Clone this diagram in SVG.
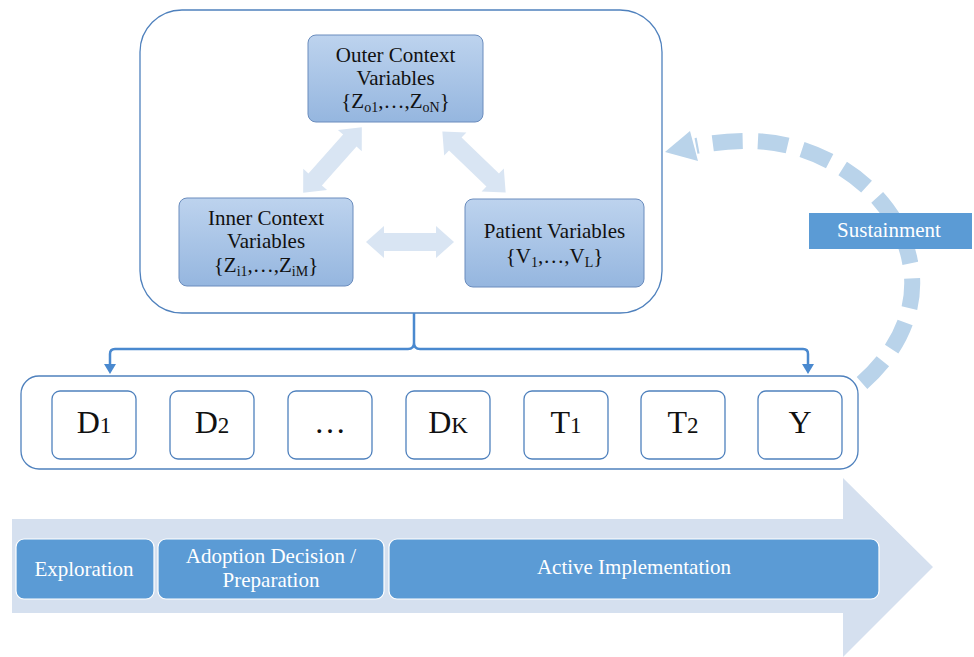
<svg xmlns="http://www.w3.org/2000/svg" xmlns:xlink="http://www.w3.org/1999/xlink" width="974" height="657" viewBox="0 0 974 657">
<style>
text{font-family:"Liberation Serif","DejaVu Serif","Noto Serif","Times New Roman",serif;}
.ntext{font-size:21px;fill:#111;text-anchor:middle;}
.sub{font-size:14px;}
.big{font-size:32px;fill:#111;text-anchor:middle;}
.small{font-size:23px;}
.wtext{font-size:21px;fill:#fff;text-anchor:middle;}
.frame{fill:#fff;stroke:#4f81bd;stroke-width:1.3;}
.node{fill:url(#ng);stroke:#6a8cbd;stroke-width:1;}
.seq{fill:#fff;stroke:#4f81bd;stroke-width:1.3;}
.phase{fill:#5b9bd5;stroke:#fff;stroke-width:1.2;}
.dbl{fill:#d9e5f3;}
.sm{fill:#a8b8e0;}
</style>
<defs>
<linearGradient id="ng" x1="0" y1="0" x2="0" y2="1">
<stop offset="0" stop-color="#bdd3ee"/>
<stop offset="1" stop-color="#95b6df"/>
</linearGradient>
<path id="dbl" d="M -44 0 L -26 -16 L -26 -9 L 26 -9 L 26 -16 L 44 0 L 26 16 L 26 9 L -26 9 L -26 16 Z"/>
<path id="sma" d="M 0 -4 L 8 -4 L 8 -8 L 16 0 L 8 8 L 8 4 L 0 4 Z"/>
</defs>

<g id="timeline">
<path fill="#d5e0ef" d="M 12 519 L 843 519 L 843 478 L 933 567 L 843 657 L 843 613 L 12 613 Z"/>
</g>

<g id="sustainment-arc">
<path d="M 862 383 C 905 345 918 300 910 262 C 898 192 822 141 750 141 C 728 141 712 143 696 146" fill="none" stroke="#b9d3ea" stroke-width="16" stroke-dasharray="30 15"/>
<polygon points="665,152 690,131 698,161" fill="#b9d3ea"/>
</g>

<g id="context-frame">
<rect class="frame" x="140" y="10" width="522" height="303" rx="42"/>
</g>

<g id="connectors">
<use href="#dbl" class="dbl" transform="translate(410 242)"/>
<use href="#dbl" class="dbl" transform="translate(332.5 160) rotate(-48.2)"/>
<use href="#dbl" class="dbl" transform="translate(474 162) rotate(44)"/>
<path d="M 110 366 L 110 354 Q 110 349 115 349 L 408 349 Q 414 349 414 343 L 414 313 M 414 343 Q 414 349 420 349 L 803 349 Q 808 349 808 354 L 808 366" fill="none" stroke="#4a89cf" stroke-width="2.5"/>
<polygon points="104,364 116,364 110,374" fill="#4a89cf"/>
<polygon points="802,364 814,364 808,374" fill="#4a89cf"/>
<use href="#sma" class="sm" transform="translate(146 425)"/>
<use href="#sma" class="sm" transform="translate(264 425)"/>
<use href="#sma" class="sm" transform="translate(382 425)"/>
<use href="#sma" class="sm" transform="translate(500 425)"/>
<use href="#sma" class="sm" transform="translate(618 425)"/>
<use href="#sma" class="sm" transform="translate(735 425)"/>
</g>

<g id="outer-context">
<rect class="node" x="308" y="35" width="175" height="87" rx="8"/>
<text class="ntext" x="395.5" y="62">Outer Context</text>
<text class="ntext" x="395.5" y="85">Variables</text>
<text class="ntext" x="395.5" y="108">{Z<tspan class="sub" dy="4">o1</tspan><tspan dy="-4">,…,Z</tspan><tspan class="sub" dy="4">oN</tspan><tspan dy="-4">}</tspan></text>
</g>

<g id="inner-context">
<rect class="node" x="179" y="198" width="174" height="88" rx="8"/>
<text class="ntext" x="266" y="225">Inner Context</text>
<text class="ntext" x="266" y="248">Variables</text>
<text class="ntext" x="266" y="272">{Z<tspan class="sub" dy="4">i1</tspan><tspan dy="-4">,…,Z</tspan><tspan class="sub" dy="4">iM</tspan><tspan dy="-4">}</tspan></text>
</g>

<g id="patient">
<rect class="node" x="465" y="199" width="179" height="88" rx="8"/>
<text class="ntext" x="554.5" y="238">Patient Variables</text>
<text class="ntext" x="554.5" y="263">{V<tspan class="sub" dy="4">1</tspan><tspan dy="-4">,…,V</tspan><tspan class="sub" dy="4">L</tspan><tspan dy="-4">}</tspan></text>
</g>

<g id="sequence-frame">
<rect class="frame" x="21" y="376" width="837" height="93" rx="18"/>
</g>

<g id="d1">
<rect class="seq" x="52" y="391" width="84" height="68" rx="8"/>
<text class="big" x="94" y="433">D<tspan class="small">1</tspan></text>
</g>
<g id="d2">
<rect class="seq" x="170" y="391" width="84" height="68" rx="8"/>
<text class="big" x="212" y="433">D<tspan class="small">2</tspan></text>
</g>
<g id="dots">
<rect class="seq" x="288" y="391" width="84" height="68" rx="8"/>
<text class="big" x="330" y="433">…</text>
</g>
<g id="dk">
<rect class="seq" x="406" y="391" width="84" height="68" rx="8"/>
<text class="big" x="448" y="433">D<tspan class="small">K</tspan></text>
</g>
<g id="t1">
<rect class="seq" x="524" y="391" width="84" height="68" rx="8"/>
<text class="big" x="566" y="433">T<tspan class="small">1</tspan></text>
</g>
<g id="t2">
<rect class="seq" x="641" y="391" width="84" height="68" rx="8"/>
<text class="big" x="683" y="433">T<tspan class="small">2</tspan></text>
</g>
<g id="y">
<rect class="seq" x="758" y="391" width="84" height="68" rx="8"/>
<text class="big" x="800" y="433">Y</text>
</g>

<g id="sustainment">
<rect x="809" y="213" width="163" height="36" fill="#5b9bd5"/>
<text class="wtext" x="889" y="237">Sustainment</text>
</g>

<g id="exploration">
<rect class="phase" x="16" y="539" width="138" height="60" rx="8"/>
<text class="wtext" x="84" y="576">Exploration</text>
</g>
<g id="adoption">
<rect class="phase" x="158" y="539" width="226" height="60" rx="8"/>
<text class="wtext" x="271" y="563">Adoption Decision /</text>
<text class="wtext" x="271" y="587">Preparation</text>
</g>
<g id="active">
<rect class="phase" x="389" y="539" width="490" height="60" rx="8"/>
<text class="wtext" x="634" y="574">Active Implementation</text>
</g>
</svg>
